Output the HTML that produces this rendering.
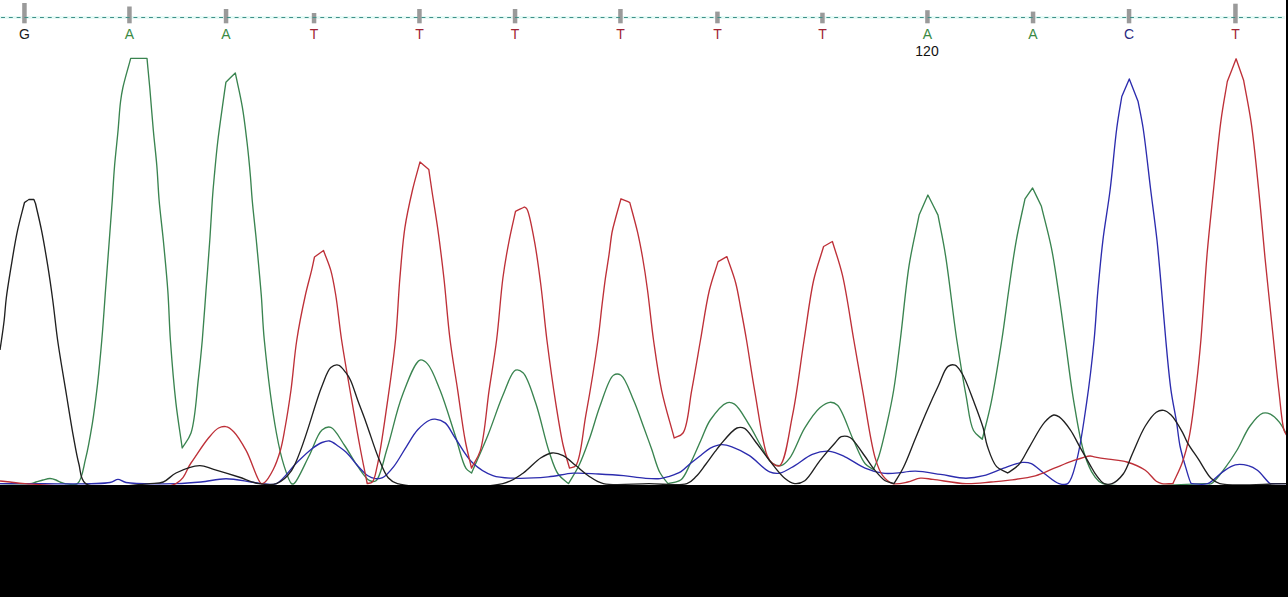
<!DOCTYPE html>
<html><head><meta charset="utf-8"><style>
html,body{margin:0;padding:0;background:#fff;}
body{width:1288px;height:597px;position:relative;overflow:hidden;font-family:"Liberation Sans",sans-serif;}
svg{position:absolute;left:0;top:0;}
.l{position:absolute;top:27px;width:40px;text-align:center;font-size:14px;line-height:15px;}
.num{position:absolute;left:907px;top:44px;width:40px;text-align:center;font-size:14px;line-height:15px;color:#111;}
.bot{position:absolute;left:0;top:485px;width:1288px;height:112px;background:#000;}
.rb{position:absolute;left:1286px;top:0;width:2px;height:597px;background:#000;}
</style></head><body>
<svg width="1288" height="597" viewBox="0 0 1288 597">
<line x1="0" y1="17.5" x2="1285" y2="17.5" stroke="#e6faf6" stroke-width="3"/>
<rect x="22.2" y="3.0" width="4.5" height="20.3" fill="#9a9a9a"/><rect x="127.2" y="6.5" width="4.5" height="16.8" fill="#9a9a9a"/><rect x="223.8" y="9.0" width="4.5" height="14.3" fill="#9a9a9a"/><rect x="311.8" y="13.0" width="4.5" height="10.3" fill="#9a9a9a"/><rect x="417.2" y="9.0" width="4.5" height="14.3" fill="#9a9a9a"/><rect x="512.8" y="9.0" width="4.5" height="14.3" fill="#9a9a9a"/><rect x="618.2" y="9.0" width="4.5" height="14.3" fill="#9a9a9a"/><rect x="715.2" y="11.6" width="4.5" height="11.7" fill="#9a9a9a"/><rect x="820.2" y="12.7" width="4.5" height="10.6" fill="#9a9a9a"/><rect x="925.2" y="10.2" width="4.5" height="13.1" fill="#9a9a9a"/><rect x="1030.8" y="11.6" width="4.5" height="11.7" fill="#9a9a9a"/><rect x="1126.8" y="9.0" width="4.5" height="14.3" fill="#9a9a9a"/><rect x="1233.2" y="3.7" width="4.5" height="19.6" fill="#9a9a9a"/>
<line x1="1.08" y1="17.5" x2="1284" y2="17.5" stroke="#3f9088" stroke-width="1.1" stroke-dasharray="3.9 3.886"/>
<g fill="none" stroke-width="1.35" stroke-linejoin="round">
<path stroke="#3a8450" d="M0.0 483.6 C10.0 483.6 23.9 484.4 30.0 483.6 C32.8 483.2 33.9 482.6 36.0 482.0 C38.2 481.4 40.7 480.6 43.0 480.0 C45.3 479.4 47.8 478.5 50.0 478.5 C52.1 478.5 54.2 479.3 56.0 480.0 C57.5 480.6 58.6 481.4 60.0 482.0 C61.6 482.6 62.9 483.3 65.0 483.6 C68.2 484.1 74.3 485.9 77.5 483.6 C82.2 480.2 83.3 467.8 85.6 458.7 C88.3 448.1 90.3 435.9 92.3 423.8 C94.4 410.9 96.0 397.3 97.6 383.6 C99.2 369.4 100.5 355.0 101.8 340.0 C103.2 324.0 104.3 307.1 105.5 290.5 C106.8 273.8 108.1 256.1 109.3 240.3 C110.4 226.1 111.4 212.9 112.3 200.0 C113.1 188.1 113.6 177.1 114.6 165.5 C115.6 153.7 117.1 141.1 118.1 130.0 C119.0 120.1 119.5 109.7 120.5 102.0 C121.2 96.5 121.6 93.5 122.8 88.0 C124.5 79.9 128.1 68.2 130.7 58.3 C136.1 58.3 141.6 58.3 147.0 58.3 C147.9 68.2 148.8 77.2 149.8 88.0 C150.9 100.8 152.1 116.6 153.3 130.0 C154.4 142.3 155.8 153.7 156.8 165.5 C157.8 177.1 158.1 188.1 159.1 200.0 C160.2 212.9 161.9 225.9 163.3 240.0 C164.8 255.8 166.6 273.7 167.8 290.5 C169.0 307.1 169.2 322.5 170.4 340.0 C171.8 359.7 173.7 383.6 175.9 402.8 C177.8 419.1 180.1 432.9 182.2 448.0 C185.1 443.0 188.6 439.9 191.0 433.0 C195.3 420.6 196.5 394.4 198.5 377.7 C200.1 363.9 201.1 353.4 202.3 340.0 C203.6 324.6 204.8 307.1 206.0 290.5 C207.3 273.8 208.7 255.9 209.8 240.0 C210.8 225.9 211.5 211.5 212.3 200.0 C212.9 191.3 213.4 185.6 214.2 177.2 C215.2 166.7 216.3 153.7 217.7 142.0 C219.1 130.3 220.9 117.6 222.4 106.9 C223.6 98.0 224.7 90.5 225.9 82.3 C229.0 79.2 232.2 76.0 235.3 72.9 C237.6 84.2 240.4 95.4 242.3 106.9 C244.3 118.5 245.6 130.3 247.0 142.0 C248.4 153.7 249.6 166.7 250.5 177.2 C251.2 185.6 251.4 191.3 252.2 200.0 C253.2 211.5 254.9 225.6 256.3 240.0 C257.9 257.0 259.9 278.0 261.3 295.5 C262.5 311.1 262.6 322.5 264.3 340.0 C266.8 365.4 272.2 410.0 276.4 433.0 C278.9 446.7 281.0 456.4 284.0 465.6 C286.3 472.6 289.1 482.0 291.5 483.6 C292.3 484.2 293.0 484.2 294.0 483.6 C297.4 481.6 304.3 465.1 309.0 456.0 C313.6 447.2 317.1 434.1 322.0 430.0 C324.8 427.7 327.9 426.4 330.8 427.4 C335.4 428.9 340.2 439.2 344.6 445.5 C349.1 451.9 352.8 459.5 357.2 465.6 C361.2 471.1 365.8 478.9 369.7 480.7 C371.9 481.7 374.0 482.1 376.0 480.7 C380.6 477.4 383.4 460.3 387.3 448.0 C392.2 432.6 396.3 410.9 402.4 395.3 C407.5 382.1 414.4 361.9 420.0 360.1 C422.6 359.3 425.1 361.4 427.5 363.9 C432.0 368.5 436.0 380.2 440.1 390.3 C445.3 403.2 450.6 421.6 455.2 435.5 C459.1 447.3 462.1 462.7 466.0 468.4 C467.8 471.0 469.7 471.5 471.6 473.0 C477.0 460.5 482.6 448.3 487.8 435.5 C493.1 422.4 497.8 407.0 502.9 395.3 C507.0 385.8 511.0 372.1 515.5 370.2 C517.9 369.2 520.6 370.5 523.0 372.7 C527.8 377.1 531.7 391.4 535.6 402.8 C540.5 416.9 544.6 438.3 549.0 451.3 C552.1 460.4 554.2 468.3 558.1 474.0 C561.1 478.3 565.0 480.4 568.5 483.6 C572.1 477.4 575.9 471.9 579.2 465.0 C583.1 456.9 586.4 447.2 589.8 437.7 C593.4 427.6 596.1 416.4 600.0 406.0 C604.0 395.6 608.5 378.5 613.5 375.2 C615.9 373.6 618.6 373.7 621.0 375.2 C625.6 378.1 629.8 391.6 633.6 400.3 C637.5 409.2 640.8 419.4 644.0 428.0 C646.8 435.6 649.1 442.0 651.7 449.3 C654.4 456.9 656.7 466.7 660.0 472.8 C662.4 477.3 665.3 480.0 668.0 483.6 C672.3 482.3 677.4 482.6 681.0 479.8 C685.2 476.5 687.3 469.4 690.4 463.4 C694.0 456.4 697.6 447.5 701.0 440.0 C704.2 433.1 706.1 426.1 710.3 420.0 C714.7 413.7 722.1 404.4 726.9 402.8 C729.7 401.9 731.9 402.5 734.5 404.1 C739.3 407.1 744.9 418.1 749.5 425.4 C754.1 432.7 758.0 441.3 762.1 448.0 C765.5 453.6 768.3 460.3 772.1 463.1 C774.8 465.1 778.2 466.2 781.0 465.6 C784.1 464.9 786.8 461.8 789.7 458.1 C794.7 451.7 799.3 436.7 804.8 427.9 C809.5 420.3 814.9 412.1 819.9 407.8 C823.3 404.9 826.8 402.5 829.9 402.3 C832.6 402.1 835.0 402.9 837.5 405.3 C842.9 410.5 848.5 429.8 853.5 440.3 C857.6 448.9 861.0 458.8 865.2 463.7 C867.8 466.7 870.7 467.6 873.4 469.5 C875.1 465.3 876.9 462.3 878.6 457.0 C881.4 448.6 884.5 434.7 887.0 423.5 C889.5 412.4 891.7 402.3 893.7 390.0 C896.2 375.0 898.0 358.3 900.3 340.0 C903.1 317.6 905.6 287.8 909.1 265.4 C912.0 246.9 915.8 231.9 919.1 215.1 C922.0 208.4 925.0 201.7 927.9 195.0 C931.3 201.7 934.6 208.4 938.0 215.1 C940.5 228.5 943.0 239.4 945.5 255.3 C949.2 278.3 953.0 314.8 956.8 340.0 C959.9 360.4 962.9 379.0 966.0 395.3 C968.5 408.4 969.4 423.0 973.5 430.5 C975.9 434.9 979.4 436.3 982.3 439.2 C985.2 427.1 988.3 416.6 991.1 402.8 C994.8 384.8 998.7 359.7 1001.8 340.0 C1004.5 322.5 1006.3 307.1 1008.7 290.5 C1011.1 273.8 1013.4 256.2 1016.3 240.3 C1018.9 225.8 1022.1 212.6 1025.0 198.8 C1027.5 195.2 1030.1 191.6 1032.6 188.0 C1035.5 194.1 1038.5 200.2 1041.4 206.3 C1044.7 220.1 1048.5 233.4 1051.4 247.8 C1054.5 263.1 1056.7 279.9 1059.0 295.5 C1061.3 310.6 1062.9 323.9 1065.2 340.0 C1067.9 359.1 1070.6 383.1 1074.0 402.8 C1077.0 420.5 1079.9 439.7 1084.1 453.0 C1087.0 462.2 1090.2 470.4 1094.1 475.7 C1096.8 479.4 1097.8 481.6 1102.9 483.6 C1118.0 489.4 1191.5 483.6 1205.0 483.6 C1208.4 483.6 1209.0 484.6 1211.3 483.6 C1215.6 481.6 1221.6 472.4 1226.0 466.6 C1230.1 461.2 1233.4 456.1 1237.1 450.0 C1241.4 442.8 1245.2 432.5 1250.0 426.0 C1253.9 420.7 1258.9 414.6 1262.9 413.2 C1265.5 412.3 1267.9 413.0 1270.3 414.1 C1273.4 415.5 1276.8 419.1 1279.5 422.4 C1282.4 426.0 1284.5 430.8 1287.0 435.0"/>
<path stroke="#2c2cae" d="M0.0 483.6 C3.3 483.6 6.3 483.6 10.0 483.6 C14.5 483.6 18.0 483.6 25.0 483.6 C41.8 483.5 96.8 485.1 110.0 482.5 C114.2 481.7 115.3 479.4 118.0 479.4 C120.7 479.4 122.1 481.7 126.0 482.5 C135.4 484.4 162.2 483.9 176.0 483.6 C185.8 483.4 192.7 482.8 201.0 482.0 C209.3 481.2 217.7 478.7 226.0 478.7 C234.3 478.7 244.5 481.1 251.0 482.0 C255.2 482.6 257.5 483.3 261.3 483.6 C265.8 484.0 271.4 485.7 276.4 483.6 C283.2 480.7 290.2 469.1 296.5 463.0 C301.8 457.8 306.9 452.6 311.6 449.0 C315.2 446.2 318.7 443.8 322.0 442.5 C324.6 441.5 327.0 440.6 329.5 441.0 C332.4 441.5 335.5 444.3 338.4 446.3 C341.5 448.5 344.7 450.8 347.6 453.7 C350.9 456.9 353.6 461.2 356.9 464.8 C360.3 468.6 364.4 473.5 367.9 475.8 C370.4 477.4 372.8 478.3 375.3 478.6 C377.7 478.9 380.1 478.9 382.6 477.7 C386.2 475.9 390.1 471.1 393.7 466.6 C398.2 461.0 402.4 452.7 406.6 446.3 C410.4 440.5 413.5 434.3 417.7 429.8 C421.4 425.8 426.6 421.5 430.0 420.0 C431.9 419.1 433.1 418.9 435.1 419.1 C437.9 419.4 442.1 420.5 445.1 422.9 C449.0 426.0 451.3 432.4 455.2 438.0 C460.2 445.3 466.0 456.6 472.8 463.1 C478.8 468.8 485.9 473.2 492.9 475.7 C499.4 478.0 505.4 477.9 513.0 478.2 C523.1 478.6 537.4 477.9 548.1 476.9 C557.2 476.1 564.9 473.7 573.3 473.2 C581.7 472.7 590.0 473.6 598.4 474.0 C606.8 474.4 615.6 474.9 623.5 475.7 C630.7 476.4 637.6 477.7 644.0 478.2 C649.7 478.6 655.4 479.1 660.0 478.6 C663.5 478.2 666.1 477.3 669.3 476.3 C673.0 475.1 677.6 473.7 681.0 471.6 C684.2 469.7 686.2 467.0 689.2 464.5 C692.7 461.6 697.3 458.1 701.0 455.2 C704.3 452.7 706.9 449.9 710.3 448.1 C713.8 446.3 718.2 444.7 721.9 444.6 C725.3 444.5 728.2 445.5 731.9 446.8 C737.0 448.6 743.6 451.8 749.5 455.6 C756.2 459.9 763.7 469.4 769.6 471.9 C773.3 473.5 776.1 473.8 779.7 473.2 C784.3 472.4 789.7 468.5 794.8 465.6 C800.5 462.3 806.2 456.7 812.3 454.3 C817.9 452.1 824.3 450.8 829.9 451.3 C835.2 451.8 839.7 454.4 845.0 456.8 C851.3 459.7 858.5 465.3 865.1 468.1 C871.0 470.6 877.3 472.4 882.7 473.2 C887.2 473.8 890.6 473.4 895.3 473.2 C901.2 472.9 908.3 471.1 915.4 471.2 C923.3 471.3 932.1 473.2 940.5 474.4 C949.0 475.6 958.3 478.2 966.0 478.2 C972.4 478.2 977.6 477.2 983.6 475.7 C990.2 474.0 997.1 470.4 1003.7 468.1 C1010.0 465.9 1017.4 462.8 1022.5 462.4 C1025.9 462.1 1028.3 462.3 1031.3 463.6 C1035.3 465.3 1039.5 470.0 1043.9 473.2 C1048.7 476.7 1054.4 482.2 1059.0 483.6 C1062.2 484.6 1065.3 485.3 1067.8 483.6 C1072.0 480.7 1074.0 470.2 1076.6 460.6 C1080.7 445.8 1083.7 422.5 1086.6 402.8 C1089.6 382.3 1092.2 359.7 1094.1 340.0 C1095.8 322.5 1096.4 307.0 1097.9 290.5 C1099.4 273.8 1100.9 257.0 1102.9 240.3 C1104.9 223.5 1107.9 207.7 1110.1 190.0 C1112.6 170.4 1114.5 145.2 1116.8 128.0 C1118.4 115.7 1120.1 107.0 1121.8 96.5 C1124.3 90.6 1126.8 84.8 1129.3 78.9 C1132.2 86.5 1135.2 94.0 1138.1 101.6 C1139.8 110.4 1141.4 117.3 1143.1 128.0 C1145.6 144.3 1148.3 170.4 1150.7 190.0 C1152.9 207.6 1155.1 223.1 1157.0 240.3 C1158.9 258.3 1160.5 278.1 1162.0 295.5 C1163.4 311.1 1164.4 324.7 1165.8 340.0 C1167.3 356.3 1168.9 375.4 1171.0 390.3 C1172.7 402.2 1175.0 412.5 1176.6 422.4 C1177.9 430.9 1178.5 438.4 1180.0 446.0 C1181.5 453.1 1183.5 460.1 1185.5 466.6 C1187.3 472.6 1189.9 482.6 1191.3 483.6 C1191.6 483.8 1191.7 483.6 1192.1 483.6 C1194.0 483.6 1202.8 485.3 1207.6 483.6 C1212.9 481.8 1217.5 475.4 1222.4 472.1 C1226.7 469.2 1230.8 465.8 1235.3 464.8 C1239.5 463.9 1244.4 464.6 1248.2 465.7 C1251.6 466.6 1254.3 468.0 1257.4 470.3 C1261.6 473.4 1267.6 482.5 1270.3 483.6 C1271.2 484.0 1271.4 483.6 1272.5 483.6 C1275.3 483.6 1282.8 483.6 1288.0 483.6"/>
<path stroke="#be3038" d="M0.0 481.0 C3.3 481.3 6.3 481.6 10.0 482.0 C14.5 482.5 17.4 483.2 25.0 483.6 C49.1 484.9 152.7 495.4 176.0 483.6 C185.6 478.7 185.8 470.2 191.0 463.0 C196.6 455.1 203.2 444.3 208.5 438.0 C212.1 433.7 215.2 429.7 218.6 428.0 C221.1 426.7 223.6 426.2 226.0 426.7 C228.7 427.2 231.1 429.1 233.7 431.7 C237.8 435.8 242.1 443.2 246.2 450.6 C251.4 459.9 257.4 481.9 261.3 483.6 C262.5 484.1 263.4 483.4 264.6 482.5 C267.1 480.6 270.5 474.8 273.0 470.0 C276.0 464.3 278.5 456.9 280.5 450.0 C282.5 442.9 283.5 436.3 285.0 428.0 C287.0 417.1 289.1 403.6 291.0 390.0 C293.1 374.5 294.3 356.1 296.8 340.0 C299.1 324.7 302.5 308.2 305.3 295.5 C307.4 285.9 309.9 277.5 311.6 270.4 C312.8 265.2 313.5 261.5 314.5 257.0 C317.5 254.8 320.5 252.7 323.5 250.5 C325.9 257.1 328.8 263.3 330.8 270.4 C333.0 278.2 334.2 285.9 335.8 295.5 C337.9 308.2 339.2 323.9 341.6 340.0 C344.5 359.2 348.9 383.9 352.2 402.8 C354.9 418.4 357.1 431.7 359.7 445.5 C362.1 458.6 364.7 470.9 367.2 483.6 C368.9 483.1 370.9 483.4 372.3 482.0 C374.9 479.4 375.6 472.9 377.3 465.6 C380.6 451.5 384.3 423.8 387.3 402.8 C390.3 381.9 393.4 360.9 395.5 340.0 C397.6 319.3 398.2 297.6 399.9 278.0 C401.4 260.3 402.6 243.2 404.9 227.7 C406.9 214.2 409.8 201.6 412.5 190.0 C414.9 179.9 417.5 171.3 420.0 161.9 C422.9 164.4 425.9 166.9 428.8 169.4 C429.8 176.3 430.6 182.1 431.8 190.0 C433.4 200.7 435.7 214.2 437.6 227.7 C439.8 243.2 441.9 260.3 443.9 278.0 C446.1 297.6 447.6 320.4 450.1 340.0 C452.3 357.7 455.2 373.5 457.7 390.3 C460.2 407.0 462.5 426.3 465.2 440.5 C467.2 451.1 469.4 458.9 471.5 468.1 C474.4 462.3 477.8 458.4 480.3 450.6 C484.7 436.8 486.3 409.5 489.1 390.3 C491.7 372.8 494.4 357.7 496.6 340.0 C499.1 320.4 500.5 296.1 502.9 278.0 C504.8 263.8 506.9 252.0 509.2 240.3 C511.2 230.0 513.4 221.0 515.5 211.4 C518.4 209.9 521.4 208.5 524.3 207.0 C525.1 207.6 526.0 207.6 526.8 208.8 C529.5 212.8 532.1 229.0 534.3 240.3 C536.8 253.4 538.6 267.7 540.6 283.0 C542.9 300.6 544.5 320.6 546.9 340.0 C549.5 360.4 552.7 383.9 555.7 402.8 C558.2 418.4 560.5 433.6 563.2 445.5 C565.2 454.3 567.4 460.6 569.5 468.1 C571.6 467.3 573.9 467.8 575.8 465.6 C580.9 459.5 582.5 433.9 585.8 415.4 C589.9 392.8 595.2 360.5 598.0 340.0 C599.9 326.0 600.8 315.1 602.1 304.4 C603.2 295.6 604.0 288.5 605.1 280.3 C606.3 271.8 607.9 262.6 609.1 254.2 C610.2 246.5 610.9 238.2 612.1 232.0 C613.0 227.4 613.9 224.6 615.1 220.0 C616.7 213.9 619.0 205.9 621.0 198.8 C623.9 200.1 626.9 201.3 629.8 202.6 C632.4 212.4 635.3 222.5 637.5 231.9 C639.5 240.6 640.9 248.0 642.5 257.0 C644.3 267.2 645.9 277.8 647.5 290.0 C649.5 304.9 651.2 323.3 653.5 340.0 C655.9 356.8 658.1 373.8 661.6 390.3 C665.0 406.5 670.0 422.1 674.2 438.0 C677.1 436.3 680.6 436.4 683.0 433.0 C688.1 426.0 688.9 405.1 691.7 390.3 C694.7 374.2 697.6 356.7 700.5 340.0 C703.4 323.4 705.9 304.7 709.3 290.5 C711.9 279.5 715.2 271.2 718.1 261.6 C721.0 259.9 724.0 258.3 726.9 256.6 C729.8 265.4 733.4 274.2 735.7 283.0 C737.9 291.4 739.0 299.1 740.7 308.0 C742.6 318.0 744.5 328.1 746.5 340.0 C749.0 354.9 751.5 372.5 754.6 390.3 C758.2 410.7 762.7 444.8 767.1 455.6 C768.7 459.6 769.9 461.4 772.1 463.1 C774.2 464.7 777.4 466.9 779.7 465.6 C785.5 462.4 788.7 433.9 792.5 415.4 C797.1 392.9 800.4 363.6 804.1 340.0 C807.4 319.0 809.8 297.5 813.6 280.5 C816.5 267.5 820.3 257.8 823.6 246.5 C826.5 244.8 829.5 243.2 832.4 241.5 C835.8 252.8 839.4 262.2 842.5 275.4 C846.7 293.4 850.3 319.8 853.8 340.0 C856.9 357.8 859.4 372.3 862.6 390.3 C866.4 411.2 870.6 443.0 875.2 458.1 C877.6 466.0 879.3 471.3 882.7 475.7 C885.5 479.3 888.8 482.5 892.7 483.6 C897.0 484.8 903.0 483.0 907.8 482.0 C912.2 481.1 916.2 478.6 920.4 478.2 C924.6 477.8 927.8 478.8 933.0 479.4 C941.4 480.3 955.7 483.3 966.0 483.6 C974.9 483.9 983.6 482.6 991.1 482.0 C997.2 481.5 1001.4 481.2 1007.6 480.4 C1015.7 479.3 1027.1 478.1 1035.3 475.8 C1042.2 473.9 1047.6 470.9 1053.7 468.4 C1059.8 466.0 1066.0 463.2 1072.1 461.1 C1078.1 459.1 1086.1 456.2 1090.0 456.0 C1091.8 455.9 1092.3 456.5 1094.1 456.8 C1097.4 457.4 1103.3 458.4 1108.4 459.2 C1114.2 460.1 1120.9 460.2 1126.9 462.0 C1133.2 463.9 1140.2 466.8 1145.3 470.3 C1149.8 473.4 1153.0 479.1 1156.3 481.3 C1158.3 482.7 1159.7 483.2 1161.9 483.6 C1164.9 484.2 1169.2 483.6 1172.9 483.6 C1176.0 476.7 1179.4 470.5 1182.1 463.0 C1185.1 454.6 1187.3 446.2 1189.5 435.3 C1192.5 420.1 1194.9 397.0 1196.9 380.0 C1198.6 365.6 1199.5 355.9 1200.9 340.0 C1202.9 316.5 1204.9 279.5 1207.2 252.8 C1209.2 230.1 1211.3 211.5 1213.5 190.0 C1215.9 167.4 1218.3 140.2 1221.0 120.4 C1223.0 105.5 1225.2 94.5 1227.3 81.5 C1230.2 73.9 1233.2 66.4 1236.1 58.8 C1238.6 65.9 1241.1 73.1 1243.6 80.2 C1246.1 94.4 1248.9 107.0 1251.2 122.9 C1254.1 142.7 1256.4 167.6 1258.7 190.0 C1261.0 212.5 1262.7 234.1 1265.0 257.8 C1267.6 283.9 1271.0 315.7 1273.5 340.0 C1275.5 359.3 1277.1 376.0 1279.0 392.0 C1280.6 405.7 1281.8 422.9 1284.0 430.0 C1284.9 433.0 1286.0 434.0 1287.0 436.0"/>
<path stroke="#202020" d="M0.0 350.0 C0.6 346.2 1.1 342.8 1.7 338.5 C2.5 333.1 3.5 326.4 4.2 320.0 C5.0 313.0 5.3 306.0 6.3 298.0 C7.5 288.2 9.5 276.5 11.3 265.4 C13.2 253.9 15.2 241.2 17.6 230.2 C19.7 220.4 22.2 211.7 24.5 202.5 C26.0 201.5 27.4 200.5 28.9 199.5 C30.6 199.5 32.2 199.5 33.9 199.5 C34.4 200.8 35.0 202.2 35.5 203.5 C37.5 212.4 39.6 220.7 41.5 230.2 C43.7 241.1 45.8 253.7 47.7 265.4 C49.6 277.1 51.2 288.4 52.8 300.5 C54.5 313.3 56.0 328.8 57.6 340.0 C58.8 348.4 59.7 353.8 61.0 362.0 C62.7 372.3 64.8 384.9 66.8 397.0 C68.9 409.9 71.3 425.2 73.5 437.2 C75.3 447.1 76.7 455.8 78.9 464.0 C80.8 471.1 79.8 479.4 85.6 483.6 C95.9 491.0 136.6 484.4 150.0 483.6 C156.1 483.2 159.1 483.6 163.3 482.0 C167.8 480.3 170.9 475.5 176.0 473.0 C182.5 469.8 192.8 465.7 199.7 465.6 C204.9 465.5 208.3 467.9 213.6 469.4 C220.8 471.5 230.8 474.5 238.7 477.0 C245.8 479.2 252.2 482.6 258.8 483.6 C264.8 484.6 271.1 485.6 276.4 483.6 C282.1 481.5 286.5 477.8 291.5 470.6 C302.0 455.3 314.5 403.8 322.0 386.0 C325.5 377.5 327.2 370.8 330.8 367.6 C333.0 365.6 336.0 364.5 338.3 365.1 C341.0 365.7 343.8 370.1 345.9 372.7 C347.8 375.1 348.9 376.8 350.4 380.0 C352.9 385.1 355.4 394.0 358.0 401.0 C360.6 408.1 363.1 414.3 366.0 422.4 C369.9 433.0 374.7 449.1 379.0 459.2 C382.1 466.5 384.5 473.5 388.2 477.7 C390.9 480.7 392.3 482.1 397.4 483.6 C413.2 488.2 481.9 488.7 502.9 483.6 C512.6 481.2 516.8 477.4 523.0 473.2 C529.3 468.9 535.1 461.5 540.6 458.0 C544.6 455.5 548.1 453.4 551.9 453.0 C555.6 452.6 559.5 453.8 563.2 455.6 C567.5 457.7 571.6 462.2 575.8 465.6 C580.0 468.9 583.8 472.7 588.3 475.7 C593.0 478.8 596.8 482.0 603.4 483.6 C614.3 486.3 634.5 483.6 649.0 483.6 C662.2 483.6 678.8 486.4 686.9 483.6 C691.5 482.0 693.3 479.2 696.3 476.3 C699.6 473.0 702.5 468.5 705.6 464.5 C708.8 460.3 712.3 455.2 715.0 451.7 C716.9 449.2 717.7 447.8 720.0 445.2 C723.9 440.7 732.1 429.9 737.0 428.0 C739.7 426.9 742.1 427.2 744.5 428.4 C748.0 430.2 751.0 435.9 754.6 440.5 C759.2 446.3 764.5 454.2 769.6 460.6 C774.5 466.7 779.8 474.3 784.7 478.2 C788.1 481.0 791.4 483.2 794.8 483.6 C798.1 483.9 801.5 483.0 804.8 480.7 C809.9 477.2 814.8 467.0 819.9 460.6 C824.8 454.5 831.0 447.3 835.0 443.0 C837.5 440.3 838.7 437.6 841.2 436.7 C843.7 435.8 847.1 436.0 850.0 437.5 C854.3 439.8 858.5 447.6 862.6 453.0 C866.9 458.6 871.0 465.7 875.2 470.6 C878.6 474.6 881.7 478.5 885.2 480.7 C888.0 482.4 891.1 482.6 894.0 483.6 C897.2 478.2 900.4 473.6 903.5 467.3 C907.5 459.3 911.3 448.5 915.2 439.1 C919.1 429.7 922.9 420.1 926.9 411.0 C930.7 402.2 934.8 393.1 938.6 385.2 C941.8 378.4 944.3 369.1 948.0 366.4 C950.1 364.8 952.9 364.4 955.0 365.2 C957.7 366.2 959.7 369.7 962.1 373.5 C966.0 379.9 970.2 392.3 973.8 401.6 C977.2 410.5 980.8 419.9 983.2 428.0 C985.1 434.6 985.3 440.1 987.4 446.3 C989.7 453.0 992.5 462.1 996.6 466.6 C999.7 470.0 1003.9 470.9 1007.6 473.0 C1011.3 470.3 1015.3 468.5 1018.7 464.8 C1022.9 460.2 1025.8 452.8 1029.8 446.3 C1034.3 438.8 1039.7 427.8 1044.5 422.4 C1047.6 418.9 1050.9 415.5 1053.7 415.0 C1055.7 414.7 1057.2 415.6 1059.2 416.9 C1062.5 419.2 1067.0 425.1 1070.3 429.8 C1073.8 434.8 1076.3 440.6 1079.5 446.3 C1082.9 452.3 1086.9 459.5 1090.0 464.8 C1092.4 468.9 1094.1 472.5 1096.6 475.7 C1098.9 478.7 1101.4 482.4 1104.2 483.6 C1106.6 484.6 1109.4 484.6 1112.1 483.6 C1115.7 482.2 1120.0 478.2 1123.2 474.0 C1127.1 468.8 1129.1 461.0 1132.4 453.7 C1136.3 445.2 1140.7 433.4 1145.3 426.0 C1148.8 420.4 1152.6 414.6 1156.3 412.2 C1158.7 410.6 1161.3 410.0 1163.7 410.4 C1166.3 410.8 1168.6 412.6 1171.1 415.0 C1174.8 418.6 1179.2 426.5 1182.1 431.6 C1184.4 435.6 1185.1 438.6 1187.4 442.6 C1190.3 447.7 1194.6 453.5 1198.4 459.2 C1202.5 465.4 1207.0 474.5 1211.3 478.6 C1214.1 481.3 1215.4 482.4 1219.8 483.6 C1231.5 486.8 1265.3 483.6 1288.0 483.6"/>
</g>
</svg>
<div class="l" style="left:4.5px;color:#1a1a1a">G</div><div class="l" style="left:109.5px;color:#3a8a44">A</div><div class="l" style="left:206.0px;color:#3a8a44">A</div><div class="l" style="left:294.0px;color:#a02535">T</div><div class="l" style="left:399.5px;color:#a02535">T</div><div class="l" style="left:495.0px;color:#a02535">T</div><div class="l" style="left:600.5px;color:#a02535">T</div><div class="l" style="left:697.5px;color:#a02535">T</div><div class="l" style="left:802.5px;color:#a02535">T</div><div class="l" style="left:907.5px;color:#3a8a44">A</div><div class="l" style="left:1013.0px;color:#3a8a44">A</div><div class="l" style="left:1109.0px;color:#2a2a80">C</div><div class="l" style="left:1215.5px;color:#a02535">T</div>
<div class="num">120</div>
<div class="bot"></div>
<div class="rb"></div>
</body></html>
